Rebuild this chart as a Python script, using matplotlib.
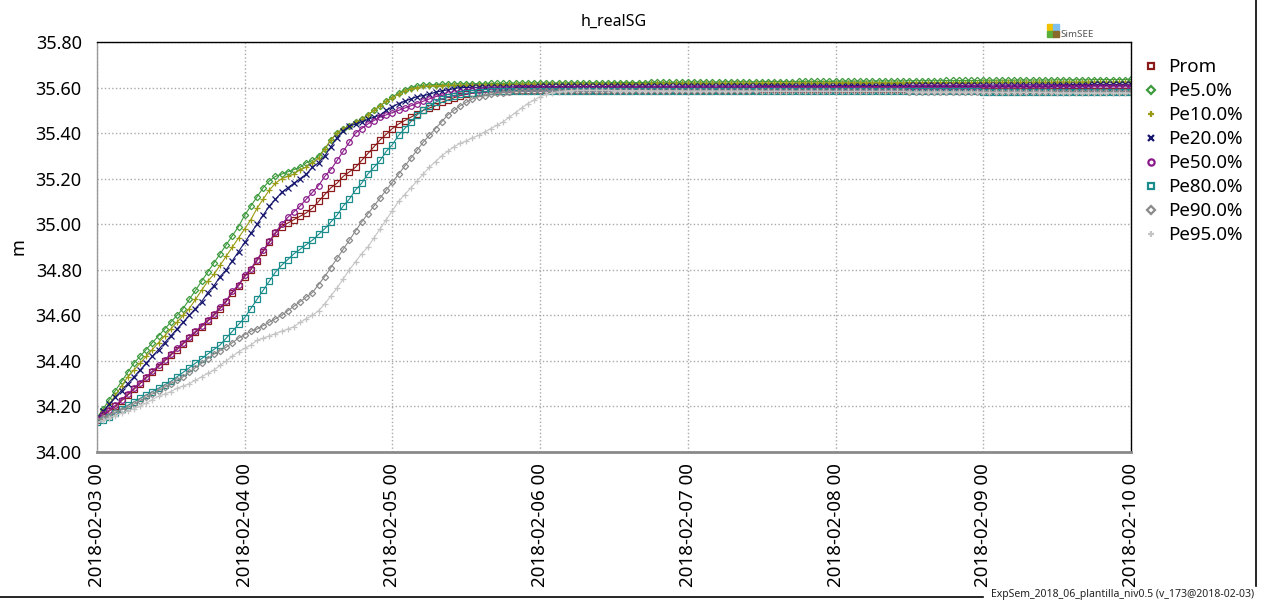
import matplotlib
matplotlib.use("Agg")
import matplotlib.pyplot as plt
from matplotlib.lines import Line2D
from matplotlib.patches import Rectangle
import numpy as np

plt.rcParams['font.family'] = ['Noto Sans', 'DejaVu Sans']

# hourly values, 2018-02-03 00 .. 2018-02-10 00 (one row per day)
prom = [
    34.14, 34.16, 34.18, 34.20, 34.225, 34.25, 34.275, 34.30, 34.325, 34.35, 34.375, 34.40, 34.425, 34.45, 34.475, 34.50, 34.525, 34.55, 34.575, 34.60, 34.63, 34.66, 34.70, 34.73,
    34.77, 34.80, 34.84, 34.88, 34.92, 34.96, 34.99, 35.005, 35.02, 35.035, 35.05, 35.07, 35.10, 35.13, 35.16, 35.18, 35.21, 35.23, 35.25, 35.28, 35.31, 35.34, 35.37, 35.395,
    35.42, 35.44, 35.455, 35.47, 35.485, 35.50, 35.51, 35.52, 35.535, 35.545, 35.555, 35.565, 35.57, 35.575, 35.578, 35.58, 35.583, 35.585, 35.587, 35.587, 35.588, 35.588, 35.589, 35.589,
    35.590, 35.590, 35.590, 35.590, 35.590, 35.590, 35.590, 35.590, 35.590, 35.590, 35.590, 35.590, 35.590, 35.590, 35.590, 35.590, 35.590, 35.590, 35.590, 35.590, 35.590, 35.590, 35.590, 35.590,
    35.591, 35.591, 35.591, 35.591, 35.591, 35.591, 35.591, 35.591, 35.591, 35.591, 35.591, 35.591, 35.592, 35.592, 35.592, 35.592, 35.592, 35.592, 35.592, 35.592, 35.592, 35.592, 35.592, 35.592,
    35.593, 35.593, 35.593, 35.593, 35.593, 35.593, 35.593, 35.593, 35.593, 35.593, 35.593, 35.593, 35.594, 35.594, 35.594, 35.594, 35.594, 35.594, 35.594, 35.594, 35.594, 35.594, 35.594, 35.594,
    35.595, 35.595, 35.595, 35.595, 35.595, 35.595, 35.595, 35.595, 35.595, 35.595, 35.595, 35.595, 35.596, 35.596, 35.596, 35.596, 35.596, 35.596, 35.596, 35.596, 35.596, 35.596, 35.596, 35.596,
    35.597]

pe5 = [
    34.15, 34.19, 34.23, 34.27, 34.31, 34.35, 34.39, 34.42, 34.45, 34.48, 34.51, 34.54, 34.57, 34.60, 34.63, 34.67, 34.71, 34.75, 34.79, 34.83, 34.87, 34.91, 34.95, 34.99,
    35.04, 35.08, 35.12, 35.16, 35.19, 35.21, 35.22, 35.23, 35.24, 35.25, 35.27, 35.28, 35.30, 35.33, 35.37, 35.40, 35.42, 35.43, 35.45, 35.46, 35.48, 35.50, 35.52, 35.54,
    35.56, 35.575, 35.59, 35.60, 35.607, 35.61, 35.612, 35.613, 35.614, 35.615, 35.615, 35.616, 35.616, 35.617, 35.617, 35.617, 35.618, 35.618, 35.618, 35.619, 35.619, 35.619, 35.620, 35.620,
    35.620, 35.620, 35.620, 35.620, 35.620, 35.620, 35.621, 35.621, 35.621, 35.621, 35.621, 35.621, 35.622, 35.622, 35.622, 35.622, 35.622, 35.622, 35.623, 35.623, 35.623, 35.623, 35.623, 35.623,
    35.624, 35.624, 35.624, 35.624, 35.624, 35.624, 35.625, 35.625, 35.625, 35.625, 35.625, 35.625, 35.626, 35.626, 35.626, 35.626, 35.626, 35.626, 35.627, 35.627, 35.627, 35.627, 35.627, 35.627,
    35.628, 35.628, 35.628, 35.628, 35.628, 35.628, 35.629, 35.629, 35.629, 35.629, 35.629, 35.629, 35.630, 35.630, 35.630, 35.630, 35.630, 35.630, 35.631, 35.631, 35.631, 35.631, 35.631, 35.631,
    35.632, 35.632, 35.632, 35.632, 35.632, 35.632, 35.633, 35.633, 35.633, 35.633, 35.633, 35.633, 35.634, 35.634, 35.634, 35.634, 35.634, 35.634, 35.635, 35.635, 35.635, 35.635, 35.635, 35.635,
    35.636]

pe10 = [
    34.15, 34.18, 34.21, 34.25, 34.29, 34.33, 34.36, 34.39, 34.42, 34.45, 34.48, 34.51, 34.54, 34.57, 34.60, 34.63, 34.67, 34.71, 34.75, 34.78, 34.82, 34.86, 34.90, 34.94,
    34.98, 35.02, 35.07, 35.11, 35.15, 35.18, 35.20, 35.21, 35.22, 35.24, 35.25, 35.27, 35.29, 35.33, 35.37, 35.40, 35.42, 35.43, 35.45, 35.46, 35.48, 35.50, 35.52, 35.54,
    35.555, 35.57, 35.585, 35.595, 35.60, 35.605, 35.607, 35.608, 35.609, 35.610, 35.610, 35.611, 35.611, 35.612, 35.612, 35.612, 35.613, 35.613, 35.613, 35.614, 35.614, 35.614, 35.615, 35.615,
    35.615, 35.615, 35.615, 35.615, 35.615, 35.615, 35.616, 35.616, 35.616, 35.616, 35.616, 35.616, 35.617, 35.617, 35.617, 35.617, 35.617, 35.617, 35.618, 35.618, 35.618, 35.618, 35.618, 35.618,
    35.618, 35.618, 35.618, 35.618, 35.618, 35.618, 35.619, 35.619, 35.619, 35.619, 35.619, 35.619, 35.620, 35.620, 35.620, 35.620, 35.620, 35.620, 35.620, 35.620, 35.620, 35.620, 35.620, 35.620,
    35.621, 35.621, 35.621, 35.621, 35.621, 35.621, 35.621, 35.621, 35.621, 35.621, 35.621, 35.621, 35.622, 35.622, 35.622, 35.622, 35.622, 35.622, 35.622, 35.622, 35.622, 35.622, 35.622, 35.622,
    35.623, 35.623, 35.623, 35.623, 35.623, 35.623, 35.623, 35.623, 35.623, 35.623, 35.623, 35.623, 35.624, 35.624, 35.624, 35.624, 35.624, 35.624, 35.624, 35.624, 35.624, 35.624, 35.624, 35.624,
    35.625]

pe20 = [
    34.15, 34.18, 34.21, 34.24, 34.27, 34.30, 34.33, 34.36, 34.39, 34.42, 34.45, 34.48, 34.51, 34.54, 34.57, 34.60, 34.63, 34.66, 34.70, 34.73, 34.77, 34.80, 34.84, 34.88,
    34.92, 34.96, 35.00, 35.04, 35.08, 35.11, 35.14, 35.16, 35.18, 35.20, 35.22, 35.25, 35.27, 35.30, 35.34, 35.38, 35.41, 35.43, 35.44, 35.45, 35.46, 35.47, 35.48, 35.50,
    35.515, 35.53, 35.54, 35.55, 35.56, 35.565, 35.57, 35.58, 35.585, 35.59, 35.595, 35.60, 35.60, 35.601, 35.601, 35.602, 35.602, 35.602, 35.603, 35.603, 35.603, 35.604, 35.604, 35.604,
    35.605, 35.605, 35.605, 35.605, 35.605, 35.605, 35.605, 35.605, 35.605, 35.605, 35.605, 35.605, 35.606, 35.606, 35.606, 35.606, 35.606, 35.606, 35.606, 35.606, 35.606, 35.606, 35.606, 35.606,
    35.607, 35.607, 35.607, 35.607, 35.607, 35.607, 35.607, 35.607, 35.607, 35.607, 35.607, 35.607, 35.608, 35.608, 35.608, 35.608, 35.608, 35.608, 35.608, 35.608, 35.608, 35.608, 35.608, 35.608,
    35.609, 35.609, 35.609, 35.609, 35.609, 35.609, 35.609, 35.609, 35.609, 35.609, 35.609, 35.609, 35.610, 35.610, 35.610, 35.610, 35.610, 35.610, 35.610, 35.610, 35.610, 35.610, 35.610, 35.610,
    35.611, 35.611, 35.611, 35.611, 35.611, 35.611, 35.612, 35.612, 35.612, 35.612, 35.612, 35.612, 35.613, 35.613, 35.613, 35.613, 35.613, 35.613, 35.614, 35.614, 35.614, 35.614, 35.614, 35.614,
    35.615]

pe50 = [
    34.145, 34.165, 34.185, 34.205, 34.23, 34.255, 34.28, 34.305, 34.33, 34.355, 34.38, 34.405, 34.43, 34.455, 34.48, 34.505, 34.53, 34.555, 34.58, 34.605, 34.635, 34.665, 34.705, 34.735,
    34.775, 34.805, 34.845, 34.885, 34.925, 34.965, 35.00, 35.03, 35.055, 35.08, 35.11, 35.14, 35.17, 35.21, 35.24, 35.28, 35.32, 35.36, 35.40, 35.42, 35.44, 35.455, 35.47, 35.48,
    35.49, 35.50, 35.51, 35.52, 35.53, 35.54, 35.55, 35.56, 35.565, 35.57, 35.575, 35.58, 35.585, 35.588, 35.59, 35.592, 35.593, 35.594, 35.595, 35.595, 35.596, 35.596, 35.596, 35.597,
    35.597, 35.597, 35.597, 35.597, 35.597, 35.597, 35.597, 35.597, 35.597, 35.597, 35.597, 35.597, 35.598, 35.598, 35.598, 35.598, 35.598, 35.598, 35.598, 35.598, 35.598, 35.598, 35.598, 35.598,
    35.598, 35.598, 35.598, 35.598, 35.598, 35.598, 35.598, 35.598, 35.598, 35.598, 35.598, 35.598, 35.599, 35.599, 35.599, 35.599, 35.599, 35.599, 35.599, 35.599, 35.599, 35.599, 35.599, 35.599,
    35.600, 35.600, 35.600, 35.600, 35.600, 35.600, 35.600, 35.600, 35.600, 35.600, 35.600, 35.600, 35.601, 35.601, 35.601, 35.601, 35.601, 35.601, 35.601, 35.601, 35.601, 35.601, 35.601, 35.601,
    35.602, 35.602, 35.602, 35.602, 35.602, 35.602, 35.602, 35.602, 35.602, 35.602, 35.602, 35.602, 35.603, 35.603, 35.603, 35.603, 35.603, 35.603, 35.603, 35.603, 35.603, 35.603, 35.603, 35.603,
    35.604]

pe80 = [
    34.13, 34.14, 34.155, 34.17, 34.19, 34.205, 34.22, 34.235, 34.25, 34.265, 34.28, 34.295, 34.31, 34.33, 34.35, 34.37, 34.39, 34.41, 34.43, 34.45, 34.47, 34.50, 34.53, 34.56,
    34.59, 34.63, 34.67, 34.71, 34.75, 34.79, 34.82, 34.845, 34.87, 34.89, 34.91, 34.93, 34.955, 34.98, 35.01, 35.04, 35.08, 35.11, 35.15, 35.18, 35.22, 35.25, 35.28, 35.32,
    35.35, 35.39, 35.42, 35.45, 35.48, 35.50, 35.52, 35.535, 35.55, 35.56, 35.565, 35.57, 35.575, 35.578, 35.58, 35.582, 35.584, 35.585, 35.585, 35.586, 35.586, 35.586, 35.586, 35.586,
    35.586, 35.586, 35.586, 35.586, 35.586, 35.586, 35.586, 35.586, 35.586, 35.586, 35.586, 35.586, 35.585, 35.585, 35.585, 35.585, 35.585, 35.585, 35.585, 35.585, 35.585, 35.585, 35.585, 35.585,
    35.585, 35.585, 35.585, 35.585, 35.585, 35.585, 35.585, 35.585, 35.585, 35.585, 35.585, 35.585, 35.584, 35.584, 35.584, 35.584, 35.584, 35.584, 35.584, 35.584, 35.584, 35.584, 35.584, 35.584,
    35.584, 35.584, 35.584, 35.584, 35.584, 35.584, 35.584, 35.584, 35.584, 35.584, 35.584, 35.584, 35.583, 35.583, 35.583, 35.583, 35.583, 35.583, 35.583, 35.583, 35.583, 35.583, 35.583, 35.583,
    35.582, 35.582, 35.582, 35.582, 35.582, 35.582, 35.582, 35.582, 35.582, 35.582, 35.582, 35.582, 35.581, 35.581, 35.581, 35.581, 35.581, 35.581, 35.581, 35.581, 35.581, 35.581, 35.581, 35.581,
    35.580]

pe90 = [
    34.14, 34.15, 34.16, 34.175, 34.185, 34.195, 34.21, 34.225, 34.24, 34.255, 34.27, 34.285, 34.30, 34.315, 34.33, 34.35, 34.37, 34.39, 34.41, 34.43, 34.445, 34.46, 34.48, 34.50,
    34.515, 34.53, 34.54, 34.555, 34.57, 34.585, 34.60, 34.62, 34.64, 34.66, 34.68, 34.70, 34.735, 34.77, 34.81, 34.85, 34.89, 34.93, 34.97, 35.01, 35.045, 35.08, 35.115, 35.15,
    35.185, 35.22, 35.255, 35.29, 35.325, 35.36, 35.39, 35.42, 35.45, 35.48, 35.50, 35.52, 35.535, 35.55, 35.56, 35.565, 35.57, 35.575, 35.578, 35.58, 35.583, 35.584, 35.585, 35.585,
    35.585, 35.585, 35.585, 35.585, 35.585, 35.585, 35.585, 35.585, 35.585, 35.585, 35.585, 35.585, 35.585, 35.585, 35.585, 35.585, 35.585, 35.585, 35.585, 35.585, 35.585, 35.585, 35.585, 35.585,
    35.584, 35.584, 35.584, 35.584, 35.584, 35.584, 35.584, 35.584, 35.584, 35.584, 35.584, 35.584, 35.584, 35.584, 35.584, 35.584, 35.584, 35.584, 35.584, 35.584, 35.584, 35.584, 35.584, 35.584,
    35.583, 35.583, 35.583, 35.583, 35.583, 35.583, 35.583, 35.583, 35.583, 35.583, 35.583, 35.583, 35.582, 35.582, 35.582, 35.582, 35.582, 35.582, 35.582, 35.582, 35.582, 35.582, 35.582, 35.582,
    35.582, 35.582, 35.582, 35.582, 35.582, 35.582, 35.582, 35.582, 35.582, 35.582, 35.582, 35.582, 35.581, 35.581, 35.581, 35.581, 35.581, 35.581, 35.581, 35.581, 35.581, 35.581, 35.581, 35.581,
    35.581]

pe95 = [
    34.13, 34.14, 34.15, 34.16, 34.17, 34.18, 34.19, 34.20, 34.215, 34.23, 34.245, 34.255, 34.265, 34.28, 34.29, 34.30, 34.315, 34.33, 34.345, 34.36, 34.38, 34.40, 34.42, 34.44,
    34.455, 34.47, 34.49, 34.50, 34.51, 34.52, 34.53, 34.54, 34.55, 34.57, 34.585, 34.60, 34.62, 34.65, 34.685, 34.72, 34.76, 34.80, 34.835, 34.87, 34.90, 34.94, 34.98, 35.02,
    35.06, 35.10, 35.13, 35.16, 35.19, 35.22, 35.25, 35.275, 35.30, 35.32, 35.34, 35.355, 35.365, 35.38, 35.39, 35.405, 35.42, 35.435, 35.45, 35.47, 35.49, 35.51, 35.53, 35.545,
    35.56, 35.57, 35.577, 35.582, 35.585, 35.587, 35.588, 35.588, 35.588, 35.588, 35.588, 35.588, 35.587, 35.587, 35.587, 35.587, 35.587, 35.587, 35.586, 35.586, 35.586, 35.586, 35.586, 35.586,
    35.585, 35.585, 35.585, 35.585, 35.585, 35.585, 35.585, 35.585, 35.585, 35.585, 35.585, 35.585, 35.584, 35.584, 35.584, 35.584, 35.584, 35.584, 35.584, 35.584, 35.584, 35.584, 35.584, 35.584,
    35.583, 35.583, 35.583, 35.583, 35.583, 35.583, 35.583, 35.583, 35.583, 35.583, 35.583, 35.583, 35.581, 35.581, 35.581, 35.581, 35.581, 35.581, 35.581, 35.581, 35.581, 35.581, 35.581, 35.581,
    35.579, 35.579, 35.579, 35.579, 35.579, 35.579, 35.579, 35.579, 35.579, 35.579, 35.579, 35.579, 35.577, 35.577, 35.577, 35.577, 35.577, 35.577, 35.577, 35.577, 35.577, 35.577, 35.577, 35.577,
    35.576]

series_names = ["Prom", "Pe5.0%", "Pe10.0%", "Pe20.0%", "Pe50.0%", "Pe80.0%", "Pe90.0%", "Pe95.0%"]
day_labels = ["2018-02-03 00", "2018-02-04 00", "2018-02-05 00", "2018-02-06 00",
              "2018-02-07 00", "2018-02-08 00", "2018-02-09 00", "2018-02-10 00"]
y_ticks = [34.00, 34.20, 34.40, 34.60, 34.80, 35.00, 35.20, 35.40, 35.60, 35.80]

series = [prom, pe5, pe10, pe20, pe50, pe80, pe90, pe95]
colors = ["#8b1a1a", "#3d9a3d", "#9a9a14", "#16166e", "#8a1a8a", "#1a8c8c", "#8a8a8a", "#c4c4c4"]
markers = ["s", "D", "+", "x", "o", "s", "D", "+"]
msizes = [4.0, 3.2, 5.0, 4.5, 4.0, 4.0, 3.2, 5.0]

hours = np.arange(len(prom))

fig = plt.figure(figsize=(12.68, 6.02), dpi=100)
ax = fig.add_axes([97 / 1268, 1 - 452 / 602, (1131 - 97) / 1268, (452 - 42) / 602])

for vals, name, c, m, ms in zip(series, series_names, colors, markers, msizes):
    ax.plot(hours, vals, color=c, lw=0.8, marker=m, ms=ms, mfc="none", mew=0.9, label=name)

ax.set_xlim(0, 168)
ax.set_ylim(34.0, 35.8)
ax.set_xticks(np.arange(0, 169, 24))
ax.set_xticklabels(day_labels, rotation=90, fontsize=13.5)
ax.set_yticks(y_ticks)
ax.set_yticklabels(["%.2f" % v for v in y_ticks], fontsize=13)
ax.tick_params(length=0)
ax.tick_params(axis="y", pad=11)
ax.tick_params(axis="x", pad=8)
ax.grid(True, ls=":", color="#a8a8a8", lw=1)
ax.set_axisbelow(True)

for side in ["top", "right"]:
    ax.spines[side].set_color("black")
    ax.spines[side].set_linewidth(1)
ax.spines["left"].set_color("#9a9a9a")
ax.spines["left"].set_linewidth(1)
ax.spines["bottom"].set_color("#8a8a8a")
ax.spines["bottom"].set_linewidth(2)

ax.set_title("h_realSG", fontsize=11.5, pad=12)
ax.set_ylabel("m", fontsize=13, labelpad=6)

handles = [Line2D([], [], ls="none", marker=m, color=c, mfc="none", mew=1.6, ms=4.5)
           for c, m in zip(colors, markers)]
fig.legend(handles, series_names, loc="upper left", bbox_to_anchor=(1136 / 1268, 1 - 51 / 602),
           frameon=False, fontsize=13.5, handlelength=0.8, handletextpad=0.5,
           labelspacing=0.32, borderaxespad=0)

# SimSEE logo
logo = [(1047, 24, "#f2c200"), (1053, 24, "#7fbfef"), (1047, 31, "#5aaf3a"), (1053, 31, "#8a6a2a")]
for x0, y0, c in logo:
    fig.patches.append(Rectangle((x0 / 1268, 1 - (y0 + 6) / 602), 6 / 1268, 6 / 602,
                                 transform=fig.transFigure, color=c))
fig.text(1060 / 1268, 1 - 37 / 602, "SimSEE", fontsize=7, color="#555555", va="baseline")

fig.text(1254 / 1268, 1 - 597 / 602, "ExpSem_2018_06_plantilla_niv0.5 (v_173@2018-02-03)",
         fontsize=7.5, ha="right", va="baseline", color="#222222")

# outer frame lines
fig.add_artist(Line2D([1256 / 1268, 1256 / 1268], [1 - 586 / 602, 1.0], transform=fig.transFigure,
                      color="black", lw=1.2))
fig.add_artist(Line2D([0, 983 / 1268], [1 - 597 / 602, 1 - 597 / 602], transform=fig.transFigure,
                      color="black", lw=1.2))

fig.savefig("out.png", dpi=100)
